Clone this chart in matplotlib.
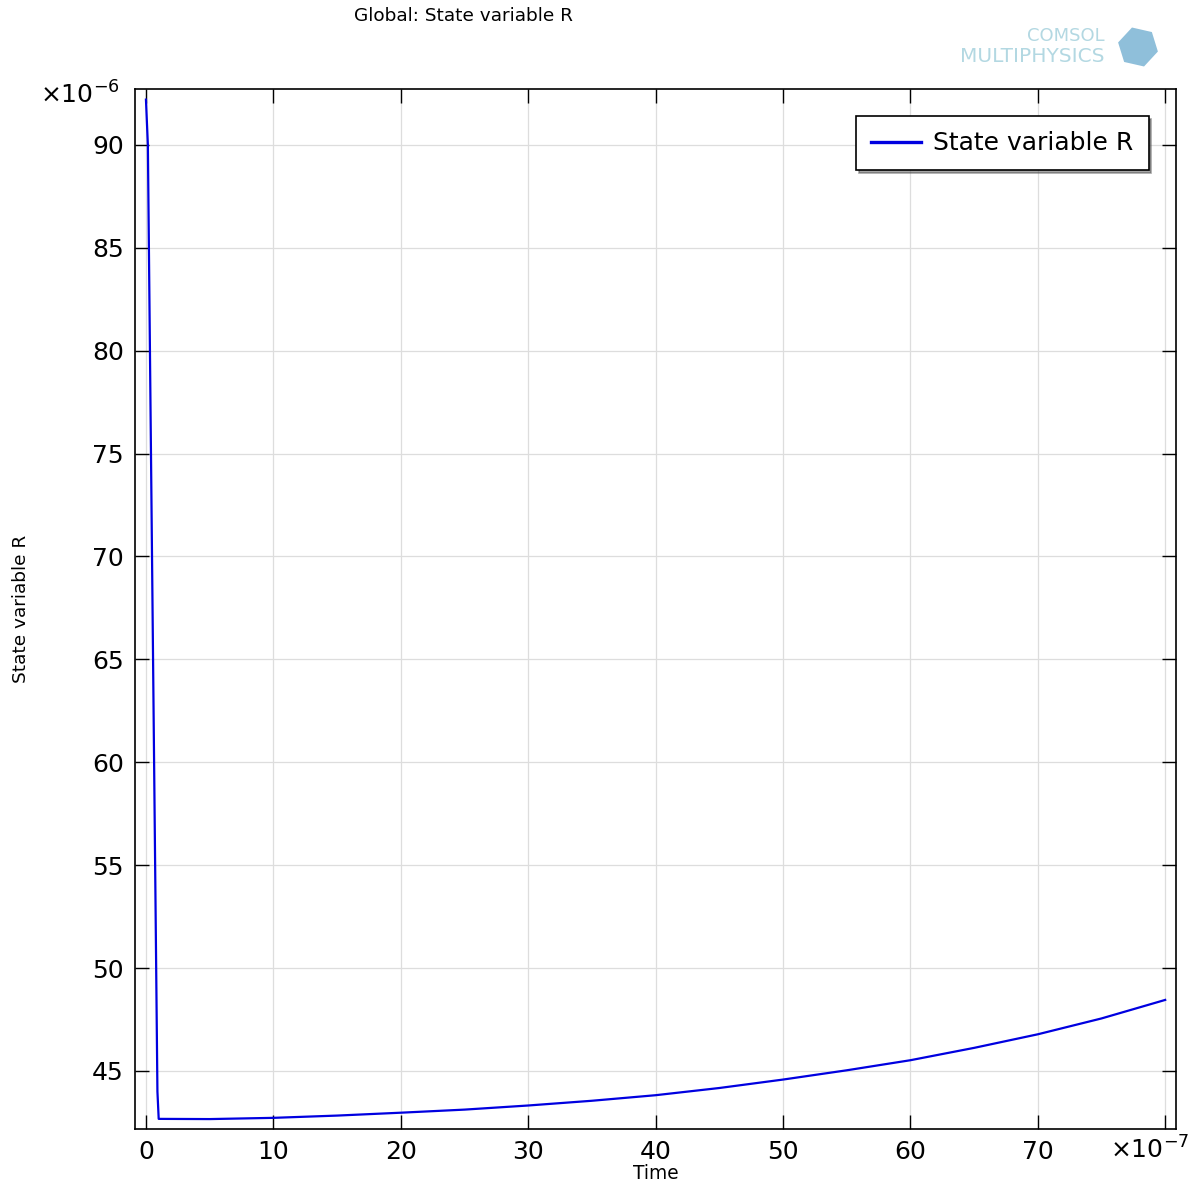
import matplotlib.pyplot as plt
from matplotlib.patches import RegularPolygon

# Time in units of 1e-7 s, state variable R in units of 1e-6
time_e7 = [0.0, 0.15, 0.9, 1.0, 5, 10, 15, 20, 25, 30, 35, 40, 45, 50, 55, 60, 65, 70, 75, 80]
r_e6 = [92.2, 90.0, 44.0, 42.67, 42.66, 42.72, 42.83, 42.97, 43.12, 43.32, 43.55, 43.82,
        44.17, 44.58, 45.03, 45.52, 46.12, 46.78, 47.55, 48.45]

x_ticks = [0, 10, 20, 30, 40, 50, 60, 70, 80]
x_tick_labels = ['0', '10', '20', '30', '40', '50', '60', '70', '']
y_ticks = [45, 50, 55, 60, 65, 70, 75, 80, 85, 90]

fig = plt.figure(figsize=(12, 12), dpi=100)
ax = fig.add_axes([0.1125, 0.0592, 0.8675, 0.8667])

ax.plot(time_e7, r_e6, color='#0000e0', linewidth=1.6, label='State variable R')

ax.set_xlim(-0.86, 80.85)
ax.set_ylim(42.18, 92.72)
ax.set_xticks(x_ticks)
ax.set_xticklabels(x_tick_labels)
ax.set_yticks(y_ticks)
ax.grid(True, color='#dddddd', linewidth=0.9)
ax.set_axisbelow(True)
ax.tick_params(direction='in', length=10, width=1, labelsize=18, top=True, right=True,
               pad=8)
for sp in ax.spines.values():
    sp.set_linewidth(1.2)

ax.set_xlabel('Time', fontsize=13.4, labelpad=0)
ax.set_ylabel('State variable R', fontsize=13.3, labelpad=45)

leg = ax.legend(loc='upper right', fontsize=18, fancybox=False, shadow=True,
                edgecolor='black', framealpha=1, borderaxespad=1.1,
                handlelength=2.0, handletextpad=0.5, borderpad=0.6)
leg.get_frame().set_linewidth(1.2)
for line in leg.get_lines():
    line.set_linewidth(2.4)

# exponent labels
fig.text(40 / 1200, 1 - 95 / 1200, r'$\times10^{-6}$', fontsize=18, va='center', ha='left')
fig.text(1150 / 1200, 1 - 1150 / 1200, r'$\times10^{-7}$', fontsize=18, va='center', ha='center')

# title
fig.text(464 / 1200, 1 - 16 / 1200, 'Global: State variable R', fontsize=13.3,
         ha='center', va='center')

# logo
fig.text(1105 / 1200, 1 - 36 / 1200, 'COMSOL', fontsize=13, color='#b3d8e2',
         ha='right', va='center')
fig.text(1105 / 1200, 1 - 57 / 1200, 'MULTIPHYSICS', fontsize=14.5, color='#b3d8e2',
         ha='right', va='center')
fig.patches.append(RegularPolygon((1138 / 1200, 1 - 47 / 1200), 6, radius=0.017,
                                  orientation=0.3, facecolor='#8fbfda', edgecolor='none',
                                  transform=fig.transFigure, figure=fig))

fig.savefig('out.png', dpi=100)
